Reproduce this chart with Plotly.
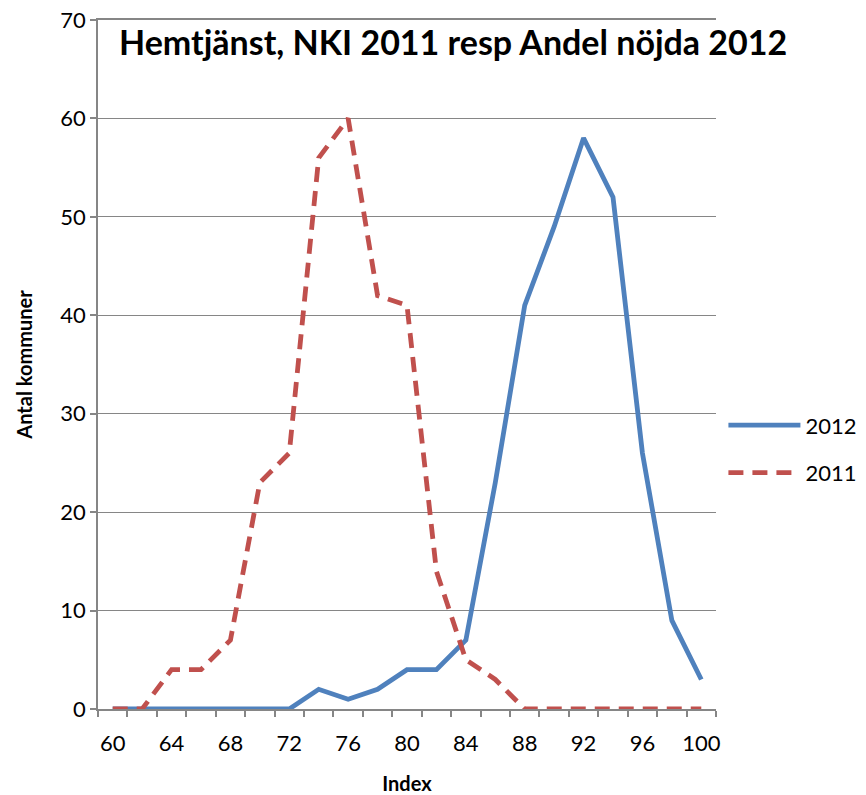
import plotly.graph_objects as go

index = [60, 62, 64, 66, 68, 70, 72, 74, 76, 78, 80, 82, 84, 86, 88, 90, 92, 94, 96, 98, 100]
y2012 = [0, 0, 0, 0, 0, 0, 0, 2, 1, 2, 4, 4, 7, 23, 41, 49, 58, 52, 26, 9, 3]
y2011 = [0, 0, 4, 4, 7, 23, 26, 56, 60, 42, 41, 14, 5, 3, 0, 0, 0, 0, 0, 0, 0]
xticks = [60, 64, 68, 72, 76, 80, 84, 88, 92, 96, 100]
yticks = [0, 10, 20, 30, 40, 50, 60, 70]

FONT = "Lato"

fig = go.Figure()
fig.add_trace(go.Scatter(x=index, y=y2012, name="2012", mode="lines", legendgroup="a",
                         line=dict(color="#4F81BD", width=4.8)))
fig.add_trace(go.Scatter(x=index, y=y2011, name="2011", mode="lines", legendgroup="b",
                         line=dict(color="#C0504D", width=4.8, dash="15px,9px")))

fig.update_layout(
    width=866, height=795,
    margin=dict(l=98, r=150, t=20, b=86, autoexpand=False),
    paper_bgcolor="white", plot_bgcolor="white",
    font=dict(family=FONT, size=22, color="black"),
    showlegend=True,
    legend=dict(x=1.012, y=0.377, xanchor="left", yanchor="middle",
                font=dict(size=22), traceorder="grouped", tracegroupgap=16, itemwidth=72),
    annotations=[dict(text="<b>Hemtjänst, NKI 2011 resp Andel nöjda 2012</b>",
                      xref="paper", yref="paper", x=0.575, y=0.969,
                      xanchor="center", yanchor="middle", showarrow=False,
                      font=dict(family=FONT, size=34, color="black"))],
)
fig.update_xaxes(
    range=[59, 101], tickvals=xticks, ticktext=[str(v) for v in xticks],
    ticks="", showgrid=False, showline=True, mirror=True, linecolor="#868686", linewidth=1.5,
    tickfont=dict(size=22), zeroline=False, automargin=False, ticklabelstandoff=14,
    minor=dict(tick0=59, dtick=2, ticks="outside", ticklen=6, tickcolor="#868686",
               tickwidth=1.5, showgrid=False),
    title=dict(text="<b>Index</b>", font=dict(size=20), standoff=22),
)
fig.update_yaxes(
    range=[0, 70], tickvals=yticks, ticks="outside", ticklen=6, tickcolor="#868686",
    tickwidth=1.5, showgrid=True, gridcolor="#868686", gridwidth=1.3,
    showline=True, linecolor="#868686", linewidth=1.5, zeroline=False,
    tickfont=dict(size=22), automargin=False,
    title=dict(text="<b>Antal kommuner</b>", font=dict(size=20), standoff=22),
)

fig.write_html("out.html", config={"displayModeBar": False},
               post_script="document.body.style.margin='0';")
